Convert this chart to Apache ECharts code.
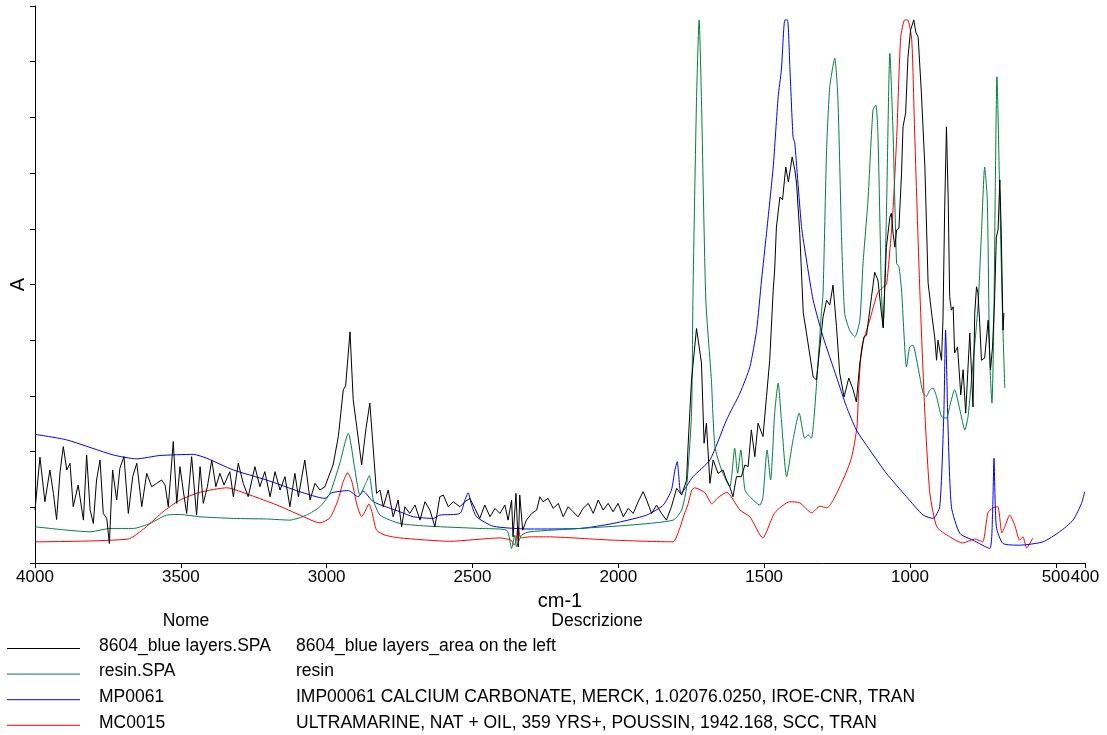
<!DOCTYPE html>
<html>
<head>
<meta charset="utf-8">
<style>
  html, body { margin: 0; padding: 0; background: #ffffff; }
  #chart { width: 1107px; height: 735px; }
</style>
<script src="https://cdn.jsdelivr.net/npm/echarts@6/dist/echarts.min.js"></script>
</head>
<body>
<div id="chart"></div>
<script>
// Wavenumber tick labels (cm-1), drawn on a reversed axis
const xTicks = [4000, 3500, 3000, 2500, 2000, 1500, 1000, 500, 400];

// Legend table
const seriesNames = ['8604_blue layers.SPA', 'resin.SPA', 'MP0061', 'MC0015'];
const seriesDescriptions = [
  '8604_blue layers_area on the left',
  'resin',
  'IMP00061 CALCIUM CARBONATE, MERCK, 1.02076.0250, IROE-CNR, TRAN',
  'ULTRAMARINE, NAT + OIL, 359 YRS+, POUSSIN, 1942.168, SCC, TRAN'
];
const seriesColors = ['#000000', '#008040', '#0000ff', '#ff0000'];

// Spectra: [wavenumber, absorbance]
const sample8604 = [
  [4000,0.095],[3983,0.190],[3966,0.110],[3949,0.167],[3937,0.125],[3926,0.078],[3914,0.164],[3903,0.209],
  [3891,0.167],[3880,0.179],[3869,0.101],[3852,0.140],[3834,0.077],[3823,0.194],[3811,0.095],[3800,0.071],
  [3789,0.149],[3777,0.185],[3766,0.089],[3754,0.080],[3745,0.035],[3734,0.167],[3720,0.113],[3709,0.170],
  [3695,0.191],[3680,0.089],[3665,0.155],[3651,0.179],[3634,0.101],[3617,0.161],[3600,0.137],[3583,0.143],
  [3566,0.149],[3554,0.140],[3543,0.101],[3526,0.218],[3514,0.107],[3503,0.173],[3492,0.131],[3480,0.089],
  [3463,0.191],[3446,0.086],[3434,0.173],[3423,0.107],[3409,0.137],[3394,0.185],[3380,0.137],[3366,0.161],
  [3352,0.140],[3332,0.164],[3320,0.119],[3303,0.179],[3286,0.143],[3269,0.119],[3246,0.173],[3229,0.137],
  [3212,0.164],[3194,0.119],[3177,0.164],[3160,0.131],[3143,0.155],[3126,0.101],[3109,0.161],[3097,0.119],
  [3075,0.185],[3057,0.113],[3040,0.143],[3023,0.131],[3006,0.137],[2989,0.161],[2978,0.176],[2960,0.227],
  [2943,0.311],[2935,0.318],[2920,0.415],[2909,0.293],[2897,0.245],[2880,0.176],[2865,0.242],[2852,0.287],
  [2840,0.203],[2829,0.125],[2817,0.131],[2806,0.101],[2789,0.131],[2772,0.083],[2755,0.113],[2743,0.065],
  [2732,0.101],[2715,0.089],[2697,0.104],[2680,0.077],[2663,0.110],[2646,0.095],[2629,0.065],[2612,0.119],
  [2600,0.122],[2583,0.101],[2566,0.110],[2543,0.101],[2526,0.110],[2509,0.116],[2492,0.098],[2475,0.080],
  [2458,0.104],[2440,0.083],[2423,0.098],[2406,0.089],[2389,0.104],[2378,0.077],[2366,0.113],[2361,0.047],
  [2351,0.125],[2343,0.029],[2338,0.122],[2328,0.059],[2315,0.077],[2297,0.089],[2280,0.095],[2269,0.119],
  [2258,0.110],[2241,0.116],[2223,0.098],[2206,0.107],[2189,0.083],[2172,0.101],[2155,0.092],[2138,0.083],
  [2121,0.098],[2103,0.107],[2086,0.089],[2069,0.113],[2052,0.095],[2035,0.107],[2018,0.092],[2001,0.107],
  [1983,0.083],[1966,0.098],[1949,0.089],[1932,0.110],[1915,0.128],[1903,0.113],[1886,0.089],[1869,0.104],
  [1852,0.089],[1835,0.077],[1818,0.101],[1800,0.134],[1783,0.122],[1766,0.149],[1761,0.209],[1749,0.329],
  [1732,0.421],[1715,0.359],[1706,0.215],[1698,0.251],[1686,0.143],[1675,0.185],[1658,0.161],[1641,0.167],
  [1629,0.149],[1618,0.137],[1607,0.119],[1595,0.155],[1578,0.155],[1566,0.176],[1555,0.173],[1544,0.239],
  [1532,0.191],[1521,0.251],[1504,0.227],[1492,0.299],[1481,0.364],[1469,0.490],[1464,0.526],[1458,0.603],
  [1446,0.657],[1437,0.652],[1426,0.711],[1417,0.684],[1404,0.729],[1395,0.706],[1389,0.682],[1378,0.592],
  [1366,0.449],[1355,0.413],[1332,0.334],[1321,0.329],[1309,0.388],[1298,0.442],[1286,0.472],[1275,0.463],
  [1264,0.499],[1252,0.424],[1241,0.341],[1226,0.298],[1210,0.332],[1195,0.311],[1184,0.289],[1172,0.359],
  [1158,0.406],[1149,0.409],[1132,0.478],[1121,0.522],[1110,0.508],[1098,0.449],[1092,0.422],[1081,0.567],
  [1069,0.621],[1064,0.628],[1058,0.592],[1052,0.567],[1046,0.598],[1038,0.601],[1029,0.700],[1024,0.783],
  [1015,0.808],[1007,0.908],[998,0.957],[992,0.960],[987,0.975],[980,0.953],[972,0.944],[961,0.844],
  [949,0.711],[938,0.503],[926,0.449],[915,0.404],[909,0.364],[904,0.400],[892,0.364],[887,0.436],
  [881,0.639],[875,0.783],[869,0.652],[864,0.478],[858,0.454],[852,0.460],[847,0.377],[837,0.388],
  [826,0.302],[818,0.347],[809,0.269],[801,0.352],[795,0.413],[784,0.280],[778,0.449],[772,0.496],
  [767,0.485],[761,0.431],[755,0.364],[744,0.368],[732,0.436],[724,0.347],[717,0.388],[710,0.472],
  [704,0.585],[698,0.598],[692,0.688],[687,0.592],[681,0.418],[678,0.449]
];

const resin = [
  [4000,0.065],[3891,0.059],[3811,0.056],[3743,0.062],[3663,0.062],[3606,0.071],[3549,0.086],[3503,0.087],
  [3434,0.083],[3320,0.080],[3206,0.079],[3126,0.077],[3069,0.086],[3023,0.101],[2989,0.125],[2955,0.179],
  [2926,0.233],[2903,0.167],[2886,0.122],[2866,0.143],[2854,0.157],[2840,0.113],[2817,0.086],[2749,0.071],
  [2646,0.066],[2475,0.062],[2383,0.059],[2366,0.026],[2355,0.050],[2349,0.029],[2332,0.050],[2303,0.056],
  [2132,0.062],[1961,0.068],[1812,0.077],[1783,0.095],[1766,0.137],[1749,0.269],[1744,0.484],[1732,0.831],
  [1723,0.975],[1715,0.831],[1700,0.472],[1681,0.329],[1669,0.209],[1646,0.167],[1618,0.137],[1601,0.206],
  [1591,0.161],[1580,0.203],[1566,0.131],[1549,0.119],[1515,0.104],[1504,0.119],[1490,0.203],[1478,0.149],
  [1464,0.269],[1452,0.323],[1441,0.257],[1423,0.155],[1401,0.221],[1380,0.269],[1361,0.224],[1349,0.230],
  [1338,0.224],[1321,0.317],[1304,0.448],[1298,0.485],[1286,0.741],[1275,0.855],[1258,0.906],[1247,0.831],
  [1235,0.592],[1224,0.448],[1207,0.418],[1189,0.406],[1172,0.436],[1161,0.538],[1144,0.652],[1127,0.813],
  [1117,0.822],[1110,0.771],[1098,0.490],[1092,0.424],[1081,0.622],[1069,0.915],[1058,0.771],[1046,0.538],
  [1038,0.532],[1029,0.490],[1012,0.352],[1001,0.388],[990,0.391],[972,0.350],[955,0.305],[944,0.299],
  [932,0.311],[921,0.314],[909,0.299],[892,0.263],[875,0.260],[864,0.281],[847,0.311],[829,0.275],
  [812,0.239],[801,0.263],[784,0.359],[767,0.460],[755,0.592],[744,0.711],[735,0.652],[727,0.370],
  [719,0.287],[713,0.418],[708,0.652],[702,0.873],[692,0.652],[683,0.448],[675,0.314]
];

const mp0061 = [
  [4000,0.231],[3891,0.221],[3732,0.194],[3651,0.187],[3572,0.193],[3457,0.195],[3411,0.188],[3320,0.167],
  [3206,0.149],[3092,0.128],[3006,0.116],[2983,0.126],[2926,0.130],[2892,0.119],[2875,0.129],[2840,0.110],
  [2749,0.092],[2703,0.083],[2635,0.080],[2612,0.086],[2543,0.089],[2526,0.113],[2515,0.126],[2503,0.104],
  [2486,0.083],[2429,0.066],[2303,0.061],[2132,0.062],[2018,0.071],[1903,0.086],[1846,0.104],[1818,0.131],
  [1806,0.167],[1798,0.182],[1793,0.158],[1785,0.125],[1744,0.155],[1686,0.185],[1629,0.257],[1583,0.305],
  [1549,0.352],[1526,0.418],[1509,0.508],[1492,0.592],[1469,0.711],[1452,0.837],[1441,0.885],[1429,0.975],
  [1420,0.975],[1412,0.891],[1401,0.765],[1395,0.754],[1372,0.604],[1355,0.544],[1332,0.472],[1298,0.406],
  [1252,0.334],[1218,0.281],[1184,0.239],[1138,0.203],[1081,0.161],[1012,0.119],[955,0.086],[921,0.080],
  [898,0.101],[884,0.269],[878,0.418],[870,0.251],[858,0.101],[829,0.053],[784,0.041],[727,0.026],
  [717,0.089],[712,0.188],[704,0.065],[681,0.035],[624,0.032],[544,0.038],[487,0.056],[441,0.077],
  [412,0.107],[401,0.128]
];

const mc0015 = [
  [4000,0.038],[3681,0.043],[3623,0.063],[3561,0.092],[3503,0.113],[3434,0.127],[3342,0.135],[3263,0.122],
  [3170,0.104],[3092,0.086],[3023,0.072],[2989,0.081],[2961,0.113],[2944,0.145],[2928,0.162],[2913,0.145],
  [2896,0.104],[2880,0.083],[2869,0.092],[2855,0.106],[2845,0.092],[2829,0.059],[2800,0.050],[2749,0.045],
  [2578,0.039],[2406,0.045],[2368,0.041],[2358,0.032],[2351,0.038],[2344,0.065],[2334,0.045],[2303,0.047],
  [2245,0.047],[2019,0.041],[1813,0.038],[1789,0.063],[1775,0.086],[1762,0.104],[1748,0.131],[1738,0.135],
  [1703,0.126],[1679,0.106],[1659,0.117],[1628,0.127],[1583,0.095],[1549,0.083],[1505,0.045],[1464,0.090],
  [1412,0.110],[1378,0.108],[1337,0.090],[1309,0.102],[1285,0.099],[1230,0.149],[1200,0.190],[1182,0.244],
  [1176,0.311],[1165,0.388],[1138,0.436],[1111,0.485],[1090,0.496],[1080,0.501],[1059,0.628],[1045,0.772],
  [1032,0.943],[1018,0.975],[1008,0.975],[994,0.939],[984,0.772],[967,0.499],[949,0.269],[932,0.126],
  [908,0.065],[864,0.047],[819,0.036],[778,0.043],[751,0.038],[733,0.090],[716,0.099],[699,0.101],
  [685,0.054],[675,0.065],[658,0.086],[641,0.068],[624,0.041],[613,0.047],[600,0.027],[579,0.045]
];

const spectra = [sample8604, resin, mp0061, mc0015];
const drawOrder = [3, 2, 1, 0];

const FONT = '"Liberation Sans", Arial, sans-serif';
const LEGEND_FONT = '17.5px ' + FONT;

// Legend table laid out under the plot
const legendGraphic = [];
legendGraphic.push({ type: 'text', x: 186, y: 621,
  style: { text: 'Nome', fill: '#000', font: LEGEND_FONT, align: 'center', verticalAlign: 'middle' } });
legendGraphic.push({ type: 'text', x: 597, y: 621,
  style: { text: 'Descrizione', fill: '#000', font: LEGEND_FONT, align: 'center', verticalAlign: 'middle' } });
seriesNames.forEach(function (name, i) {
  const y = 646 + i * 25.6;
  legendGraphic.push({ type: 'line', shape: { x1: 7, y1: y + 2.5, x2: 80, y2: y + 2.5 },
    style: { stroke: seriesColors[i], lineWidth: 1 } });
  legendGraphic.push({ type: 'text', x: 99, y: y,
    style: { text: name, fill: '#000', font: LEGEND_FONT, align: 'left', verticalAlign: 'middle' } });
  legendGraphic.push({ type: 'text', x: 296, y: y,
    style: { text: seriesDescriptions[i], fill: '#000', font: LEGEND_FONT, align: 'left', verticalAlign: 'middle' } });
});

const chart = echarts.init(document.getElementById('chart'), null, { renderer: 'canvas' });
chart.setOption({
  animation: false,
  backgroundColor: '#ffffff',
  grid: { left: 35, right: 22, top: 6, bottom: 172, containLabel: false },
  xAxis: {
    type: 'value',
    inverse: true,
    min: 400,
    max: 4000,
    name: 'cm-1',
    nameLocation: 'middle',
    nameGap: 28,
    nameTextStyle: { fontFamily: FONT, fontSize: 20, color: '#000' },
    axisLine: { show: true, onZero: false, lineStyle: { color: '#000', width: 1 } },
    axisTick: { show: true, length: 5, customValues: xTicks, lineStyle: { color: '#000' } },
    axisLabel: {
      customValues: xTicks, margin: 6, showMinLabel: true, showMaxLabel: true, hideOverlap: false,
      fontFamily: FONT, fontSize: 17, color: '#000', formatter: function (v) { return String(v); }
    },
    splitLine: { show: false }
  },
  yAxis: {
    type: 'value',
    min: 0,
    max: 1,
    interval: 0.1,
    name: 'A',
    nameLocation: 'middle',
    nameGap: 7,
    nameRotate: 90,
    nameTextStyle: { fontFamily: FONT, fontSize: 20, color: '#000' },
    axisLine: { show: true, lineStyle: { color: '#000', width: 1 } },
    axisTick: { show: true, length: 5, lineStyle: { color: '#000' } },
    axisLabel: { show: false },
    splitLine: { show: false }
  },
  graphic: legendGraphic,
  series: drawOrder.map(function (i) {
    return {
      name: seriesNames[i],
      type: 'line',
      data: spectra[i],
      showSymbol: false,
      symbol: 'none',
      smooth: i === 0 ? false : 0.2,
      silent: true,
      clip: true,
      z: 10 - i,
      lineStyle: { color: seriesColors[i], width: 1 }
    };
  })
});
</script>
</body>
</html>
